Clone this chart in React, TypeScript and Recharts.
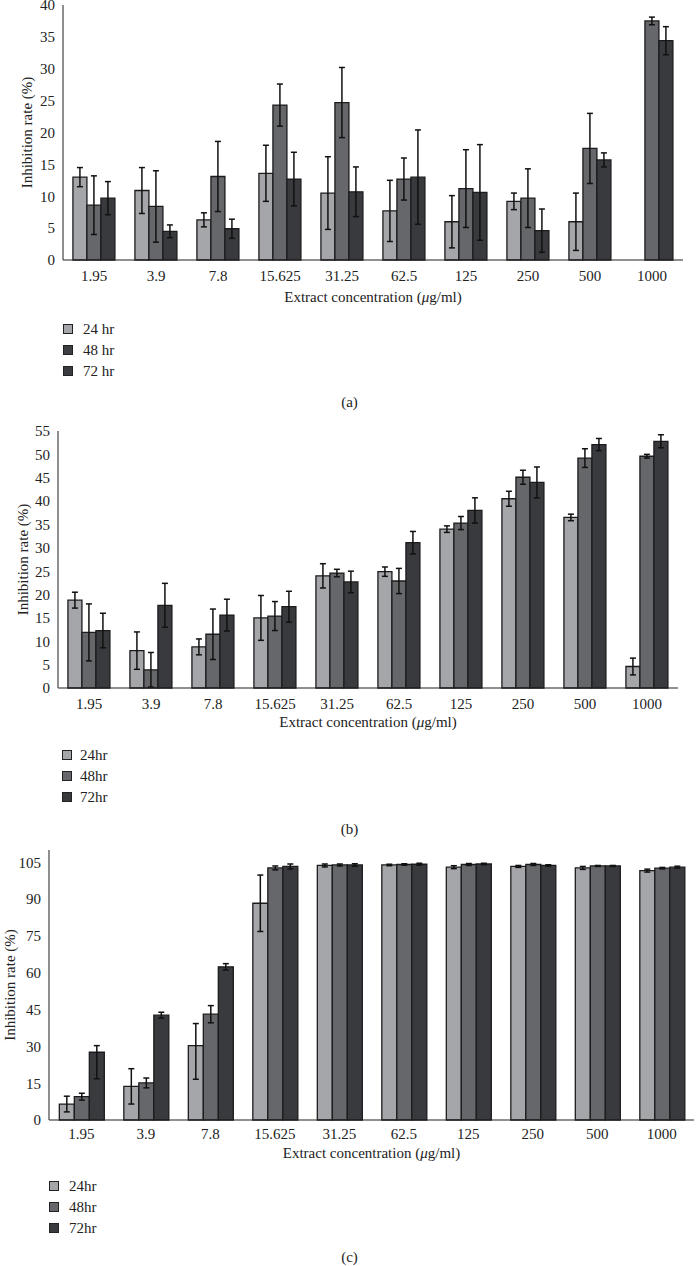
import React from "react";
import { BarChart, Bar, XAxis, YAxis, ErrorBar, Label } from "recharts";

const concentrations = ["1.95", "3.9", "7.8", "15.625", "31.25", "62.5", "125", "250", "500", "1000"];
const seriesKeys = ["h24", "h48", "h72"];
const barColors = ["#a4a6a9", "#66676b", "#393a3e"];

// (a)
const a24 = [13.0, 10.9, 6.3, 13.6, 10.5, 7.7, 6.0, 9.2, 6.0, null];
const a24Err = [1.5, 3.6, 1.1, 4.4, 5.7, 4.8, 4.1, 1.3, 4.5, null];
const a48 = [8.6, 8.4, 13.1, 24.3, 24.7, 12.7, 11.2, 9.7, 17.5, 37.5];
const a48Err = [4.6, 5.6, 5.5, 3.3, 5.5, 3.3, 6.1, 4.6, 5.5, 0.6];
const a72 = [9.7, 4.5, 4.9, 12.7, 10.7, 13.0, 10.6, 4.6, 15.7, 34.4];
const a72Err = [2.6, 1.0, 1.5, 4.2, 3.9, 7.4, 7.5, 3.4, 1.1, 2.2];

// (b)
const b24 = [18.8, 8.0, 8.8, 15.0, 24.0, 24.9, 34.0, 40.5, 36.5, 4.6];
const b24Err = [1.7, 4.0, 1.7, 4.8, 2.6, 1.0, 0.7, 1.6, 0.7, 1.8];
const b48 = [11.9, 3.9, 11.5, 15.4, 24.6, 22.9, 35.3, 45.1, 49.2, 49.6];
const b48Err = [6.1, 3.7, 5.4, 3.1, 0.8, 2.7, 1.4, 1.5, 2.0, 0.4];
const b72 = [12.3, 17.7, 15.6, 17.4, 22.7, 31.1, 38.0, 44.0, 52.1, 52.8];
const b72Err = [3.7, 4.7, 3.4, 3.3, 2.3, 2.4, 2.7, 3.3, 1.3, 1.4];

// (c)  [low, high] where the bar is asymmetric
const c24 = [6.5, 13.7, 30.3, 88.3, 103.7, 103.9, 103.0, 103.3, 102.7, 101.6];
const c24Err = [3.2, 7.2, [13.7, 9.0], 11.5, 0.6, 0.3, 0.6, 0.4, 0.6, 0.6];
const c48 = [9.5, 15.1, 43.1, 102.7, 103.9, 104.1, 104.1, 104.1, 103.5, 102.6];
const c48Err = [1.4, 2.0, 3.5, 0.8, 0.4, 0.3, 0.4, 0.4, 0.2, 0.3];
const c72 = [27.6, 42.7, 62.4, 103.3, 103.9, 104.2, 104.3, 103.7, 103.5, 103.0];
const c72Err = [[10.8, 2.7], 1.2, 1.3, 1.0, 0.5, 0.4, 0.3, 0.3, 0.2, 0.4];

const ticksA = [0, 5, 10, 15, 20, 25, 30, 35, 40];
const ticksB = [0, 5, 10, 15, 20, 25, 30, 35, 40, 45, 50, 55];
const ticksC = [0, 15, 30, 45, 60, 75, 90, 105];

const FONT = "'Liberation Serif', 'DejaVu Serif', serif";

// eslint-disable-next-line @typescript-eslint/no-explicit-any
function buildRows(m24: any[], e24: any[], m48: any[], e48: any[], m72: any[], e72: any[]) {
  return concentrations.map((c, i) => ({
    conc: c,
    h24: m24[i],
    e24: e24[i],
    h48: m48[i],
    e48: e48[i],
    h72: m72[i],
    e72: e72[i],
  }));
}

interface PanelProps {
  // eslint-disable-next-line @typescript-eslint/no-explicit-any
  rows: any[];
  chartTop: number;
  height: number;
  plotTop: number;
  plotBottom: number;
  plotLeft: number;
  plotRight: number;
  yMax: number;
  ticks: number[];
  yTitleX: number;
  xTickMargin: number;
  xTitleY: number;
}

function Panel(p: PanelProps) {
  const marginTop = p.plotTop - p.chartTop;
  const xAxisHeight = p.chartTop + p.height - p.plotBottom;
  const yMid = (p.plotTop + p.plotBottom) / 2 - p.chartTop;
  const xMid = (p.plotLeft + p.plotRight) / 2;
  const xTitle = p.xTitleY - p.chartTop;
  return (
    <div style={{ position: "absolute", left: 0, top: p.chartTop }}>
      <BarChart
        width={699}
        height={p.height}
        data={p.rows}
        margin={{ top: marginTop, right: 699 - p.plotRight, left: 0, bottom: 0 }}
        barCategoryGap="16%"
        barGap={0}
      >
        <XAxis
          dataKey="conc"
          height={xAxisHeight}
          interval={0}
          tickSize={0}
          tickMargin={p.xTickMargin}
          axisLine={{ stroke: "#222", strokeWidth: 1.2 }}
          tick={{ fontSize: 15, fill: "#222", fontFamily: FONT }}
        >
          <Label
            content={() => (
              <text x={xMid} y={xTitle} textAnchor="middle" dominantBaseline="central" fontSize={15} fill="#222" fontFamily={FONT}>
                Extract concentration (<tspan fontStyle="italic">μ</tspan>g/ml)
              </text>
            )}
          />
        </XAxis>
        <YAxis
          width={p.plotLeft}
          domain={[0, p.yMax]}
          ticks={p.ticks}
          interval={0}
          tickSize={0}
          tickMargin={8}
          axisLine={{ stroke: "#444", strokeWidth: 1.2 }}
          tick={{ fontSize: 15, fill: "#222", fontFamily: FONT }}
        >
          <Label
            content={() => (
              <text
                x={p.yTitleX}
                y={yMid}
                transform={`rotate(-90 ${p.yTitleX} ${yMid})`}
                textAnchor="middle"
                dominantBaseline="central"
                fontSize={15}
                fill="#222"
                fontFamily={FONT}
              >
                Inhibition rate (%)
              </text>
            )}
          />
        </YAxis>
        {seriesKeys.map((k, i) => (
          <Bar key={k} dataKey={k} fill={barColors[i]} stroke="#1c1c1e" strokeWidth={1.3} isAnimationActive={false}>
            <ErrorBar dataKey={"e" + k.slice(1)} width={3} stroke="#111" strokeWidth={1.5} direction="y" />
          </Bar>
        ))}
      </BarChart>
    </div>
  );
}

function Legend({ x, textX, ys, labels, colors }: { x: number; textX: number; ys: number[]; labels: string[]; colors: string[] }) {
  return (
    <>
      {labels.map((l, i) => (
        <React.Fragment key={l}>
          <div
            style={{
              position: "absolute",
              left: x,
              top: ys[i] - 5,
              width: 8,
              height: 8,
              background: colors[i],
              border: "1px solid #222",
            }}
          />
          <div
            style={{
              position: "absolute",
              left: textX,
              top: ys[i] - 10,
              lineHeight: "20px",
              fontSize: 15,
              fontFamily: FONT,
              color: "#222",
            }}
          >
            {l}
          </div>
        </React.Fragment>
      ))}
    </>
  );
}

function Caption({ y, text }: { y: number; text: string }) {
  return (
    <div
      style={{
        position: "absolute",
        left: 0,
        width: 699,
        top: y - 10,
        lineHeight: "20px",
        textAlign: "center",
        fontSize: 15,
        fontFamily: FONT,
        color: "#222",
      }}
    >
      {text}
    </div>
  );
}

export default function App() {
  const rowsA = buildRows(a24, a24Err, a48, a48Err, a72, a72Err);
  const rowsB = buildRows(b24, b24Err, b48, b48Err, b72, b72Err);
  const rowsC = buildRows(c24, c24Err, c48, c48Err, c72, c72Err);

  return (
    <div style={{ position: "absolute", left: 0, top: 0, width: 699, height: 1266, background: "#fff", overflow: "hidden" }}>
      <Panel
        rows={rowsA}
        chartTop={-5}
        height={315}
        plotTop={5}
        plotBottom={260}
        plotLeft={63}
        plotRight={683}
        yMax={40}
        ticks={ticksA}
        yTitleX={27}
        xTickMargin={10}
        xTitleY={297}
      />
      <Legend x={63} textX={83} ys={[329, 350, 371]} labels={["24 hr", "48 hr", "72 hr"]} colors={["#a4a6a9", "#3d3e42", "#3a3b3f"]} />
      <Caption y={402} text="(a)" />

      <Panel
        rows={rowsB}
        chartTop={415}
        height={315}
        plotTop={431}
        plotBottom={688}
        plotLeft={58}
        plotRight={678}
        yMax={55}
        ticks={ticksB}
        yTitleX={23}
        xTickMargin={10}
        xTitleY={722}
      />
      <Legend x={62} textX={80} ys={[755, 776, 797]} labels={["24hr", "48hr", "72hr"]} colors={barColors} />
      <Caption y={829} text="(b)" />

      <Panel
        rows={rowsC}
        chartTop={835}
        height={330}
        plotTop={850}
        plotBottom={1120}
        plotLeft={49}
        plotRight={694}
        yMax={110}
        ticks={ticksC}
        yTitleX={10}
        xTickMargin={8}
        xTitleY={1153}
      />
      <Legend x={49} textX={69} ys={[1186, 1207, 1228]} labels={["24hr", "48hr", "72hr"]} colors={barColors} />
      <Caption y={1257} text="(c)" />
    </div>
  );
}
